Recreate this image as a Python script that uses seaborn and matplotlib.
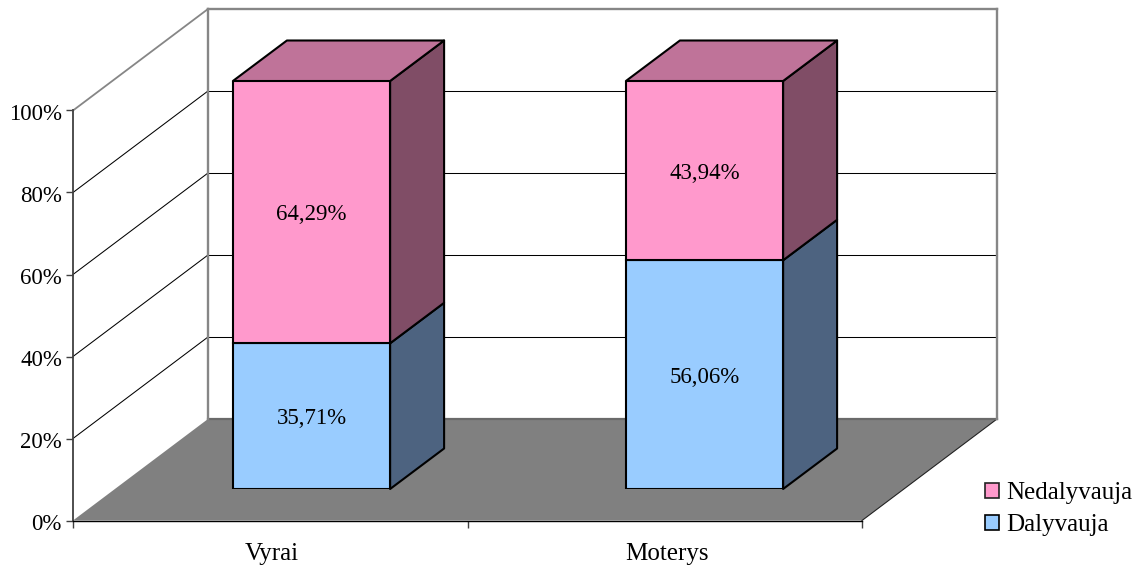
import matplotlib
matplotlib.use("Agg")
import matplotlib.pyplot as plt
import numpy as np
import pandas as pd
import seaborn as sns
from matplotlib.patches import Polygon, Patch
from matplotlib.transforms import IdentityTransform, ScaledTranslation

# Survey shares by gender
categories = ["Vyrai", "Moterys"]
dalyvauja = [35.71, 56.06]
nedalyvauja = [64.29, 43.94]
y_ticks = [0, 20, 40, 60, 80, 100]
series_names = ["Nedalyvauja", "Dalyvauja"]

# Face colours: front, side and top shades of each series
PINK, PINK_SIDE, PINK_TOP = "#FF99CC", "#804D66", "#BF7399"
BLUE, BLUE_SIDE = "#99CCFF", "#4D6380"
WALL_GREY = "#868686"
FLOOR_GREY = "#808080"

sns.set_theme(style="white")
plt.rcParams["font.family"] = ["Liberation Serif", "DejaVu Serif"]
plt.rcParams["text.color"] = "black"
FONT = 16.5
FONT_WIDE = 18

W, H = 1142, 566
fig = plt.figure(figsize=(W / 100, H / 100), dpi=100, facecolor="white")


def axes_box(left, top, right, bottom):
    return [left / W, (H - bottom) / H, (right - left) / W, (bottom - top) / H]


# Oblique projection: the front plane holds the axis, depth runs up and right
ax = fig.add_axes(axes_box(73, 110.5, 862, 520.5))
bar_ax = fig.add_axes(axes_box(115, 81, 901, 489))
FULL_DEPTH = np.array([135.0, 101.5])
BAR_DEPTH = np.array([54.0, 40.5])


def shifted(axis, x, y, depth):
    return axis.transData.transform((x, y)) + depth


def face(axis, points, **kws):
    poly = Polygon(points, closed=True, transform=IdentityTransform(), clip_on=False, **kws)
    axis.add_patch(poly)
    return poly


def link(axis, p, q, **kws):
    axis.plot([p[0], q[0]], [p[1], q[1]], transform=IdentityTransform(), clip_on=False,
              solid_capstyle="projecting", **kws)


for axis in (ax, bar_ax):
    axis.set_xlim(-0.5, 1.5)
    axis.set_ylim(0, 100)

# Floor, back wall and gridlines
xl, xr = ax.get_xlim()
front_l, front_r = shifted(ax, xl, 0, 0), shifted(ax, xr, 0, 0)
back_l, back_r = front_l + FULL_DEPTH, front_r + FULL_DEPTH
face(ax, [front_l, front_r, back_r, back_l], facecolor=FLOOR_GREY, edgecolor="none", zorder=1)
link(ax, front_r, back_r, color="#222222", lw=0.8, zorder=2)
link(ax, back_l, back_r, color="#6a6a6a", lw=1.6, zorder=2)

for tick in y_ticks[1:-1]:
    p0 = shifted(ax, xl, tick, 0)
    link(ax, p0, p0 + FULL_DEPTH, color="black", lw=0.75, zorder=1.5)
    link(ax, p0 + FULL_DEPTH, shifted(ax, xr, tick, FULL_DEPTH), color="black", lw=0.75, zorder=1.5)

top_l = shifted(ax, xl, 100, 0)
top_back_l = top_l + FULL_DEPTH
top_back_r = shifted(ax, xr, 100, FULL_DEPTH)
link(ax, top_l, top_back_l, color=WALL_GREY, lw=1.3, zorder=2)
link(ax, top_back_l, top_back_r, color=WALL_GREY, lw=1.7, zorder=2)
link(ax, back_l, top_back_l, color=WALL_GREY, lw=1.7, zorder=2)
link(ax, back_r, top_back_r, color=WALL_GREY, lw=1.7, zorder=2)

# Axis furniture on the front plane
sns.despine(ax=ax, top=True, right=True)
ax.patch.set_alpha(0)
ax.spines["left"].set(color="#404040", linewidth=1.3)
ax.spines["bottom"].set(color="black", linewidth=1.0)
ax.set_yticks(y_ticks)
ax.set_yticklabels([f"{t}%" for t in y_ticks], fontsize=FONT)
ax.set_xticks([-0.5, 0.5, 1.5])
ax.set_xticklabels([])
ax.set_xticks([0, 1], labels=categories, minor=True, fontsize=FONT_WIDE)
ax.tick_params(axis="y", which="major", left=True, length=5, width=1.0, color="#404040", pad=3,
               labelcolor="black")
ax.tick_params(axis="x", which="major", bottom=True, length=5, width=1.0, color="#404040")
ax.tick_params(axis="x", which="minor", bottom=False, length=0, pad=16, labelcolor="black")
nudge_x = ScaledTranslation(2 / 100, 0, fig.dpi_scale_trans)
for label in ax.get_xticklabels(minor=True):
    label.set_transform(label.get_transform() + nudge_x)
nudge_y = ScaledTranslation(0, -1.5 / 100, fig.dpi_scale_trans)
for label in ax.get_yticklabels():
    label.set_transform(label.get_transform() + nudge_y)

# Stacked bars: front faces come from seaborn
frame = pd.DataFrame({"group": categories, "dal": dalyvauja, "ned": nedalyvauja})
sns.barplot(frame, x="group", y="dal", color=BLUE, saturation=1, width=0.4, ax=bar_ax,
            edgecolor="black", linewidth=1.5, errorbar=None, zorder=5)
sns.barplot(frame, x="group", y="ned", bottom=frame["dal"], color=PINK, saturation=1, width=0.4,
            ax=bar_ax, edgecolor="black", linewidth=1.5, errorbar=None, zorder=5)
bar_ax.set_xlim(-0.5, 1.5)
bar_ax.set_ylim(0, 100)
bar_ax.axis("off")

# Side and top faces extruded from each drawn front face
edge = dict(edgecolor="black", linewidth=1.5, joinstyle="round")
for container, side_col, with_top in zip(bar_ax.containers, (BLUE_SIDE, PINK_SIDE), (False, True)):
    for rect in container.patches:
        x0, x1 = rect.get_x(), rect.get_x() + rect.get_width()
        y0, y1 = rect.get_y(), rect.get_y() + rect.get_height()
        br, tr = shifted(bar_ax, x1, y0, 0), shifted(bar_ax, x1, y1, 0)
        face(bar_ax, [br, tr, tr + BAR_DEPTH, br + BAR_DEPTH], facecolor=side_col, zorder=4, **edge)
        if with_top:
            tl = shifted(bar_ax, x0, y1, 0)
            face(bar_ax, [tl, tr, tr + BAR_DEPTH, tl + BAR_DEPTH], facecolor=PINK_TOP, zorder=4, **edge)

for container, values in zip(bar_ax.containers, (dalyvauja, nedalyvauja)):
    labels = [f"{v:.2f}%".replace(".", ",") for v in values]
    bar_ax.bar_label(container, labels=labels, label_type="center", padding=-2, fontsize=FONT,
                     color="black", zorder=6)

# Legend
handles = [Patch(facecolor=PINK, edgecolor="#222222", linewidth=1.2),
           Patch(facecolor=BLUE, edgecolor="black", linewidth=1.2)]
fig.legend(handles, series_names, loc="upper left", bbox_to_anchor=(985 / W, 1 - 482.5 / H),
           frameon=False, fontsize=FONT_WIDE, handlelength=0.56, handleheight=0.56, handletextpad=0.28,
           labelspacing=0.4, borderaxespad=0, borderpad=0, labelcolor="black")

fig.savefig("out.png", dpi=100, facecolor="white")
